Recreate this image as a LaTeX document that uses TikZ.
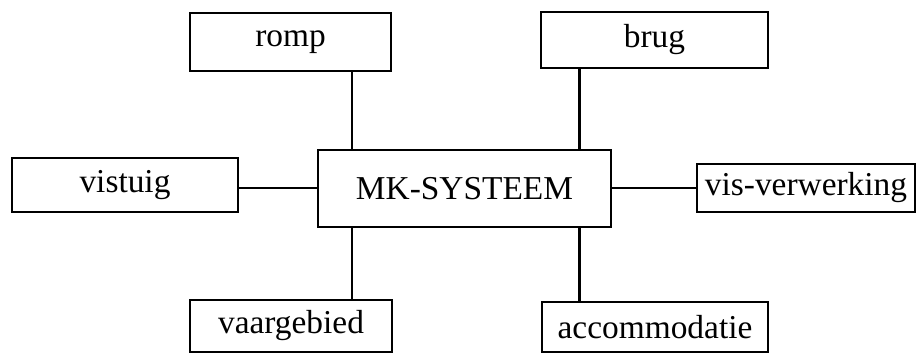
\documentclass[tikz,border=0pt]{standalone}
\usepackage{fontspec}
\setmainfont{Liberation Serif}
\usetikzlibrary{positioning, calc}

\tikzset{
  part/.style={draw, line width=1.4pt, inner sep=0pt, font=\fontsize{19}{23}\selectfont}
}

\begin{document}
\begin{tikzpicture}[line width=1.4pt]
      \useasboundingbox (0,0) rectangle (18.34,-7.08);

      % Nodes
      \node[part, minimum width=5.86cm, minimum height=1.54cm] (MK) at (9.29, -3.77) {MK-SYSTEEM};
      \node[part, minimum width=4.02cm, minimum height=1.16cm] (romp) at (5.81, -0.84) {romp};
      \node[part, minimum width=4.54cm, minimum height=1.12cm] (brug) at (13.09, -0.80) {brug};
      \node[part, minimum width=4.52cm, minimum height=1.08cm] (vistuig) at (2.50, -3.70) {vistuig};
      \node[part, minimum width=4.36cm, minimum height=0.96cm] (visverw) at (16.12, -3.76) {vis-verwerking};
      \node[part, minimum width=4.04cm, minimum height=1.04cm] (vaargeb) at (5.82, -6.52) {vaargebied};
      \node[part, minimum width=4.52cm, minimum height=1.00cm] (accom) at (13.10, -6.54) {accommodatie};

      % Attach points
      \coordinate (L) at (7.04, 0);
      \coordinate (R) at (11.59, 0);
      \coordinate (H) at (0, -3.76);

      % Edges
      \draw (romp.south -| L) -- (MK.north -| L);
      \draw (brug.south -| R) -- (MK.north -| R);
      \draw (MK.south -| L) -- (vaargeb.north -| L);
      \draw (MK.south -| R) -- (accom.north -| R);
      \draw (vistuig.east |- H) -- (MK.west |- H);
      \draw (MK.east |- H) -- (visverw.west |- H);
\end{tikzpicture}
\end{document}
